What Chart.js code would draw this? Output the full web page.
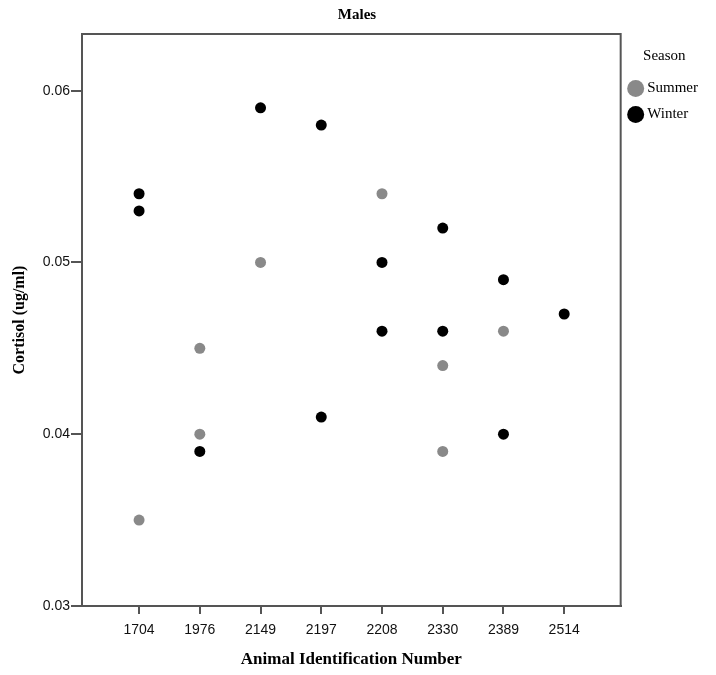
<!DOCTYPE html>
<html>
<head>
<meta charset="utf-8">
<script src="https://cdn.jsdelivr.net/npm/chart.js@4"></script>
<style>
  html, body { margin: 0; padding: 0; background: #fff; }
  #wrap { width: 716px; height: 675px; }
</style>
</head>
<body>
<div id="wrap"><canvas id="chart" width="716" height="675"></canvas></div>
<script>
// Males: cortisol per animal, split by season
const animals = ["1704", "1976", "2149", "2197", "2208", "2330", "2389", "2514"];

const summerAnimals = ["1704", "1976", "1976", "2149", "2208", "2330", "2330", "2389"];
const summerCortisol = [0.035, 0.045, 0.040, 0.050, 0.054, 0.044, 0.039, 0.046];

const winterAnimals = ["1704", "1704", "1976", "2149", "2197", "2197", "2208", "2208", "2330", "2330", "2389", "2389", "2514"];
const winterCortisol = [0.054, 0.053, 0.039, 0.059, 0.058, 0.041, 0.050, 0.046, 0.052, 0.046, 0.049, 0.040, 0.047];

const yTicks = [0.03, 0.04, 0.05, 0.06];

const SERIF = "'Liberation Serif', 'Times New Roman', serif";
const SANS = "'Liberation Sans', Arial, sans-serif";
const FRAME = "#555";

const points = (ids, vals) => ids.map((id, i) => ({ x: animals.indexOf(id), y: vals[i] }));

// box round the plot (SPSS style)
const frame = {
  id: "frame",
  afterDatasetsDraw(chart) {
    const { ctx, chartArea: a } = chart;
    ctx.save();
    ctx.strokeStyle = FRAME;
    ctx.lineWidth = 2;
    ctx.strokeRect(a.left, a.top, a.right - a.left, a.bottom - a.top);
    ctx.restore();
  },
};

new Chart(document.getElementById("chart"), {
  type: "scatter",
  data: {
    datasets: [
      { label: "Summer", data: points(summerAnimals, summerCortisol), backgroundColor: "#898989", borderWidth: 0, pointRadius: 5.5 },
      { label: "Winter", data: points(winterAnimals, winterCortisol), backgroundColor: "#000", borderWidth: 0, pointRadius: 5.5 },
    ],
  },
  options: {
    responsive: false,
    animation: false,
    layout: { padding: { left: 6, right: 8, top: 2, bottom: 0 } },
    plugins: {
      title: { display: true, text: "Males", color: "#000", font: { family: SERIF, size: 15, weight: "bold" }, padding: { top: 4, bottom: 10 } },
      legend: {
        position: "right",
        align: "start",
        title: { display: true, text: "Season", color: "#000", font: { family: SERIF, size: 15 }, padding: { top: 47, bottom: 3 } },
        labels: { usePointStyle: true, boxHeight: 12, boxWidth: 8, padding: 11, color: "#000", font: { family: SERIF, size: 15 } },
      },
      tooltip: { enabled: false },
    },
    scales: {
      x: {
        type: "linear",
        min: -0.94,
        max: 7.93,
        afterBuildTicks: (s) => { s.ticks = animals.map((_, i) => ({ value: i })); },
        afterFit: (s) => { s.height = 69; },
        ticks: { callback: (v) => animals[v], color: "#111", font: { family: SANS, size: 14 }, padding: 8, maxRotation: 0 },
        grid: { drawOnChartArea: false, color: FRAME, lineWidth: 2, tickLength: 8 },
        border: { color: FRAME, width: 2 },
        title: { display: true, text: "Animal Identification Number", color: "#000", font: { family: SERIF, size: 17, weight: "bold" }, padding: { top: 0, bottom: 5 } },
      },
      y: {
        min: 0.03,
        max: 0.0633,
        afterBuildTicks: (s) => { s.ticks = yTicks.map((v) => ({ value: v })); },
        afterFit: (s) => { s.width = 76; },
        ticks: { callback: (v) => v.toFixed(2), color: "#111", font: { family: SANS, size: 14 }, padding: 1 },
        grid: { drawOnChartArea: false, color: FRAME, lineWidth: 2, tickLength: 11 },
        border: { color: FRAME, width: 2 },
        title: { display: true, text: "Cortisol (ug/ml)", color: "#000", font: { family: SERIF, size: 16, weight: "bold" }, padding: { top: 4 } },
      },
    },
  },
  plugins: [frame],
});
</script>
</body>
</html>
